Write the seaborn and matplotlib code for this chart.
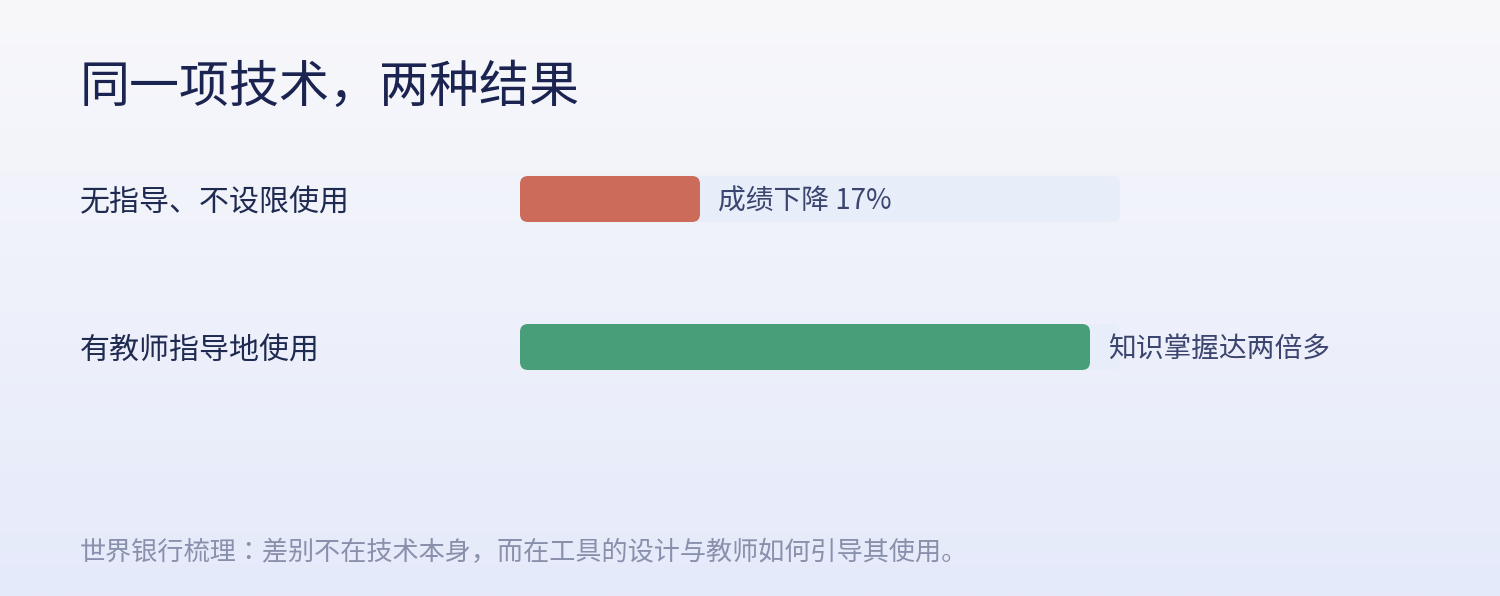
import numpy as np
import pandas as pd
import seaborn as sns
import matplotlib.pyplot as plt
import matplotlib.transforms as mtransforms
from matplotlib.patches import FancyBboxPatch

# chart content
title = "同一项技术，两种结果"
groups = ["无指导、不设限使用", "有教师指导地使用"]
values = [30, 95]  # share of the track filled
bar_labels = ["成绩下降 17%", "知识掌握达两倍多"]
footnote = "世界银行梳理：差别不在技术本身，而在工具的设计与教师如何引导其使用。"
bar_colors = ["#cd6b5b", "#489e78"]

W, H = 1500, 596
sns.set_theme(style="white")
plt.rcParams['font.family'] = ['Noto Sans CJK SC', 'DejaVu Sans']

fig = plt.figure(figsize=(W / 100, H / 100), dpi=100)

# background gradient
bg = fig.add_axes([0, 0, 1, 1])
top = np.array([248, 248, 251]) / 255
bottom = np.array([229, 234, 250]) / 255
t = np.linspace(0, 1, 256)[:, None]
grad = (top[None, :] * (1 - t) + bottom[None, :] * t)[:, None, :]
bg.imshow(grad, aspect='auto', extent=[0, 1, 0, 1])
bg.set_axis_off()


def px(x0, y0, w, h):
    return [x0 / W, 1 - (y0 + h) / H, w / W, h / H]


row_px = 148   # distance between rows
track_px = 600
ax = fig.add_axes(px(520, 199 - row_px / 2, track_px, row_px * 2))
df = pd.DataFrame({"group": groups, "value": values})
sns.barplot(data=df, x="value", y="group", hue="group", palette=bar_colors,
            width=46 / row_px, legend=False, ax=ax, orient='h', saturation=1)
ax.set_xlim(0, 100)
ax.set_ylim(1.5, -0.5)
ax.set_axis_off()

xpx = track_px / 100
radius = 8 / xpx
style = f"round,pad=0,rounding_size={radius}"
for p, lab in zip(list(ax.patches), bar_labels):
    x, y, w, h = p.get_x(), p.get_y(), p.get_width(), p.get_height()
    fc = p.get_facecolor()
    p.set_visible(False)
    ax.add_patch(FancyBboxPatch((0, y), 100, h, boxstyle=style,
                                mutation_aspect=xpx / row_px,
                                fc="#e7edf9", ec="none", zorder=1))
    ax.add_patch(FancyBboxPatch((x, y), w, h, boxstyle=style,
                                mutation_aspect=xpx / row_px,
                                fc=fc, ec="none", zorder=2))
    ax.text(x + w + 18 / xpx, y + h / 2 + 0.015, lab, va='center', ha='left',
            fontsize=20, color="#3b4570", zorder=3)

trans = mtransforms.blended_transform_factory(fig.transFigure, ax.transData)
for i, g in enumerate(groups):
    ax.text(80 / W, i + 0.025, g, transform=trans, va='center', ha='left',
            fontsize=21.6, color="#1f2a50")

fig.text(80 / W, 1 - 88 / H, title, fontsize=36, color="#1b2350", va='center')
# JP font centres the full-width colon like the reference does
fig.text(80 / W, 1 - 553 / H, footnote, fontsize=18.8, color="#8890ab", va='center',
         family=['Noto Sans CJK JP', 'DejaVu Sans'])

fig.savefig("out.png", dpi=100)
